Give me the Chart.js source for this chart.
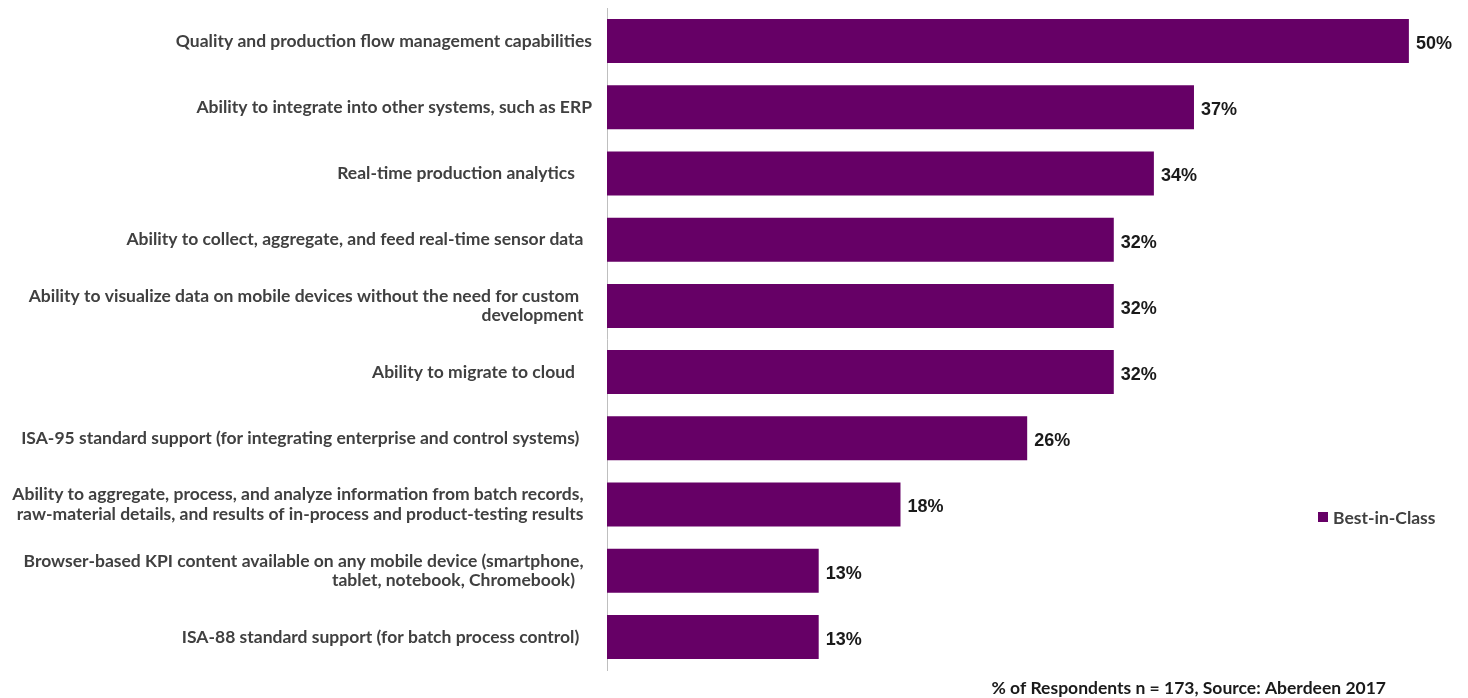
<!DOCTYPE html>
<html>
<head>
<meta charset="utf-8">
<script src="https://cdn.jsdelivr.net/npm/chart.js@4.4.1/dist/chart.umd.min.js"></script>
<style>
  html, body { margin: 0; padding: 0; background: #ffffff; }
  #wrap { width: 1468px; height: 698px; }
</style>
</head>
<body>
<div id="wrap"><canvas id="c" width="1468" height="698"></canvas></div>
<script>
const categories = [
  "Quality and production flow management capabilities",
  "Ability to integrate into other systems, such as ERP",
  "Real-time production analytics    ",
  "Ability to collect, aggregate, and feed real-time sensor data  ",
  ["Ability to visualize data on mobile devices without the need for custom   ", "development  "],
  "Ability to migrate to cloud    ",
  "ISA-95 standard support (for integrating enterprise and control systems)   ",
  ["Ability to aggregate, process, and analyze information from batch records,  ", "raw-material details, and results of in-process and product-testing results  "],
  ["Browser-based KPI content available on any mobile device (smartphone,  ", "tablet, notebook, Chromebook)    "],
  "ISA-88 standard support (for batch process control)   "
];
const seriesName = "Best-in-Class";
const bestInClass = [50, 36.6, 34.1, 31.6, 31.6, 31.6, 26.2, 18.3, 13.2, 13.2];
const footerText = "% of Respondents n = 173, Source: Aberdeen 2017";

const barColor = "#660066";
const labelFont = "Lato";
const labelSize = 17.5;

const valueLabels = {
  id: "valueLabels",
  afterDatasetsDraw(chart) {
    const ctx = chart.ctx;
    const meta = chart.getDatasetMeta(0);
    ctx.save();
    ctx.font = "bold 18px 'Liberation Sans', Arial, sans-serif";
    ctx.fillStyle = "#1a1a1a";
    ctx.textAlign = "left";
    ctx.textBaseline = "middle";
    meta.data.forEach((bar, i) => {
      const v = chart.data.datasets[0].data[i];
      ctx.fillText(Math.round(v) + "%", bar.x + 7, bar.y + 3);
    });
    ctx.restore();
  }
};

const extras = {
  id: "extras",
  afterDraw(chart) {
    const ctx = chart.ctx;
    ctx.save();
    // legend
    ctx.fillStyle = barColor;
    ctx.fillRect(1318, 512, 10, 10);
    ctx.font = "bold " + labelSize + "px " + labelFont;
    ctx.fillStyle = "#404040";
    ctx.textAlign = "left";
    ctx.textBaseline = "middle";
    ctx.fillText(chart.data.datasets[0].label, 1333, 518);
    // footer
    ctx.fillStyle = "#1a1a1a";
    ctx.textAlign = "right";
    ctx.fillText(footerText, 1386, 688);
    ctx.restore();
  }
};

new Chart(document.getElementById("c"), {
  type: "bar",
  data: {
    labels: categories,
    datasets: [{
      label: seriesName,
      data: bestInClass,
      backgroundColor: barColor,
      borderWidth: 0,
      barPercentage: 1,
      categoryPercentage: 0.665
    }]
  },
  options: {
    indexAxis: "y",
    responsive: false,
    animation: false,
    layout: { padding: { top: 8, bottom: 28, right: 11, left: 0 } },
    plugins: {
      legend: { display: false },
      tooltip: { enabled: false },
      title: { display: false }
    },
    scales: {
      x: {
        display: false,
        min: 0,
        max: 53
      },
      y: {
        afterFit(scale) {
          scale.width = 607;
          scale.paddingTop = 0;
          scale.paddingBottom = 0;
        },
        grid: { display: false, drawTicks: false },
        border: { display: true, color: "#bfbfbf", width: 1 },
        ticks: {
          color: "#404040",
          padding: 15,
          autoSkip: false,
          font: { family: labelFont, weight: "bold", size: labelSize, lineHeight: 1.12 }
        }
      }
    }
  },
  plugins: [valueLabels, extras]
});
</script>
</body>
</html>
